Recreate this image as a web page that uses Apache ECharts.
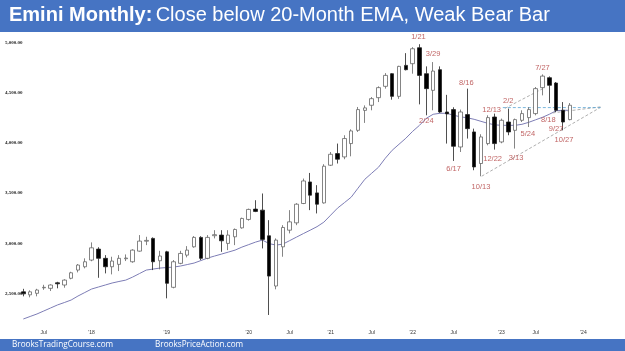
<!DOCTYPE html>
<html><head><meta charset="utf-8">
<script src="https://cdn.jsdelivr.net/npm/echarts@6/dist/echarts.min.js"></script>
<style>html,body{margin:0;padding:0;background:#fff}#c{width:625px;height:351px}</style>
</head><body><div id="c"></div>
<script>
// ---- data ----
var months = [];
(function(){var y=2017,m=3;for(var i=0;i<85;i++){months.push(y+'-'+(m<10?'0':'')+m);m++;if(m>12){m=1;y++;}}})();
// OHLC (Mar 2017 .. Nov 2023)
var opens  = [2515,2485,2500,2555,2550,2605,2583,2650,2732,2765,2832,2941,2849,2765,2789,2845,2815,2921,3020,3048,2825,2914,2560,2799,2881,2964,3058,2849,3075,3081,2998,3064,3153,3237,3340,3330,3074,2573,2964,3130,3203,3396,3611,3502,3402,3778,3894,3861,3994,4126,4325,4376,4452,4565,4691,4465,4774,4791,4950,4691,4525,4731,4309,4333,3960,4283,4110,3795,3994,4259,4010,4209,4126,4226,4253,4293,4552,4651,4598,4326,4233];
var highs  = [2545,2530,2545,2585,2590,2615,2640,2715,2792,2849,3008,2960,2881,2865,2881,2888,2940,3081,3064,3058,2924,2924,2832,2924,2971,3071,3070,3081,3130,3130,3130,3147,3255,3345,3429,3496,3230,3048,3180,3330,3400,3645,3701,3579,3788,3910,3994,4077,4136,4359,4375,4458,4565,4697,4697,4770,4896,4956,4985,4764,4807,4764,4480,4356,4333,4542,4143,4087,4276,4293,4243,4343,4243,4326,4356,4558,4684,4664,4608,4408,4398];
var lows   = [2470,2460,2470,2535,2523,2550,2556,2640,2709,2749,2820,2655,2699,2689,2722,2822,2805,2915,2981,2732,2739,2450,2550,2790,2859,2955,2832,2840,3048,2914,2931,2981,3145,3225,3310,2948,2284,2540,2865,3098,3180,3390,3330,3297,3395,3770,3795,3838,3867,4110,4200,4326,4408,4542,4432,4440,4724,4691,4385,4276,4326,4300,3994,3821,3910,4044,3728,3668,3977,3934,3997,4077,3944,4209,4159,4276,4475,4398,4309,4126,4226];
var closes = [2495,2515,2533,2560,2583,2595,2632,2705,2782,2815,2954,2849,2765,2822,2849,2852,2931,3021,3028,2815,2872,2600,2815,2898,2931,3058,2849,3058,3085,3024,3081,3137,3247,3337,3317,3038,2672,3031,3157,3213,3389,3621,3479,3389,3768,3887,3838,4044,4120,4333,4350,4442,4552,4674,4465,4764,4731,4940,4674,4542,4717,4309,4290,3967,4309,4143,3761,4060,4253,3994,4226,4110,4233,4293,4333,4542,4667,4575,4326,4209,4376];
// 20-month EMA as drawn on the picture
var ema = [2244,2269,2294,2324,2354,2384,2408,2433,2473,2508,2543,2563,2583,2603,2618,2632,2662,2697,2732,2742,2752,2757,2762,2772,2787,2802,2827,2852,2872,2891,2911,2931,2961,2986,3011,3031,2996,2981,2991,3026,3061,3096,3130,3165,3210,3280,3350,3404,3459,3549,3638,3698,3758,3848,3927,3987,4047,4116,4176,4246,4286,4296,4296,4276,4261,4251,4236,4216,4196,4181,4176,4176,4176,4186,4206,4231,4256,4286,4321,4326,4326];
var yTicks = [2500,3000,3500,4000,4500,5000];
var xTickIdx  = [3,10,21,33,39,45,51,57,63,70,75,82];
var xTickText = ['Jul',"'18","'19","'20",'Jul',"'21",'Jul',"'22",'Jul',"'23",'Jul',"'24"];
// annotations: text, candle index, anchored at high (H) or low (L)
var notes = [['1/21',58,'H'],['3/29',60,'H'],['2/24',59,'L'],['8/16',65,'H'],['6/17',63,'L'],['10/13',67,'L'],['12/13',69,'H'],['12/22',69,'L'],['2/2',71,'H'],['3/13',72,'L'],['5/24',74,'L'],['7/27',76,'H'],['8/18',77,'L'],['9/27',78,'L'],['10/27',79,'L']];
// dashed lines [idx1, price1, idx2, price2]
var grayLines = [[67.1,3668,84.5,4355],[70.5,4345,76,4540],[77.5,4300,84.5,4360]];
var blueLines = [[70.2,4353,84.5,4353]];

// ---- build ----
var noteOffset = {'1/21':[-1,-7],'3/29':[0,-8],'2/24':[0,6],'8/16':[-1,-6],'6/17':[0,8],'10/13':[0,11],'12/13':[-3,-4],'12/22':[-2,9],'2/2':[0,-8],'3/13':[1,9],'5/24':[-1,7],'7/27':[0,-6],'8/18':[-1,17],'9/27':[0,17],'10/27':[1,10]};
var candles = opens.map(function(o,i){return [o,closes[i],lows[i],highs[i]];});
var noteData = notes.map(function(n){
  var p = n[2]==='H'?highs[n[1]]:lows[n[1]];
  var off = noteOffset[n[0]];
  return {value:[n[1],p],label:{show:true,formatter:n[0],offset:off,position:'inside'}};
});
function lineSeries(arr,color){
  return arr.map(function(l){return {type:'line',data:[[l[0],l[1]],[l[2],l[3]]],xAxisIndex:1,yAxisIndex:0,symbol:'none',silent:true,
    lineStyle:{color:color,width:0.8,type:[3,2]},z:3};});
}
var chart = echarts.init(document.getElementById('c'),null,{renderer:'canvas'});
var gl=19.9, gr=24.5, gt=32.7, gb=27.6;
var opt = {
  animation:false,
  grid:{left:gl,right:gr,top:gt,bottom:gb},
  xAxis:[{type:'category',data:months,boundaryGap:true,
    axisLine:{show:false},axisTick:{show:false},splitLine:{show:false},
    axisLabel:{interval:function(i){return xTickIdx.indexOf(i)>=0;},
      formatter:function(v,i){var k=xTickIdx.indexOf(i);return k>=0?xTickText[k]:'';},
      fontSize:5,color:'#333',margin:7,fontFamily:'Liberation Sans'}},
   {type:'value',min:-0.5,max:84.5,show:false}],
  yAxis:{type:'value',min:2200,max:5100,interval:100,
    axisLine:{show:false},axisTick:{show:false},splitLine:{show:false},
    axisLabel:{formatter:function(v){return yTicks.indexOf(v)>=0?echarts.format.addCommas(v)+'.00':'';},
      fontSize:5,fontWeight:'bold',color:'#222',align:'left',margin:15,fontFamily:'Liberation Serif',showMinLabel:true,showMaxLabel:true}},
  series:[
    {type:'line',data:ema,symbol:'none',lineStyle:{color:'#7d7db5',width:1},z:2,silent:true},
    {type:'candlestick',data:candles,barWidth:4,z:4,
      itemStyle:{color:'#ffffff',color0:'#000000',borderColor:'#666666',borderColor0:'#222222',borderWidth:0.8}},
    {type:'scatter',data:noteData,symbolSize:0,xAxisIndex:0,z:6,
      label:{color:'#b03c3c',fontSize:7.5,fontFamily:'Liberation Sans'}}
  ].concat(lineSeries(grayLines,'#9a9a9a')).concat(lineSeries(blueLines,'#5aa6d6')),
  graphic:[
    {type:'rect',shape:{x:0,y:0,width:625,height:32},style:{fill:'#4674c3'},z:10},
    {type:'text',left:9,top:5,z:11,style:{text:'{b|Emini Monthly:} {n|Close below 20-Month EMA, Weak Bear Bar}',
      rich:{b:{fontSize:20,fontWeight:'bold',fill:'#fff',fontFamily:'Liberation Sans'},n:{fontSize:20,fill:'#fff',fontFamily:'Liberation Sans'}}}},
    {type:'rect',shape:{x:0,y:339,width:625,height:12},style:{fill:'#4674c3'},z:10},
    {type:'text',left:12,top:340.5,z:11,style:{text:'BrooksTradingCourse.com',fontSize:8.2,fill:'#fff',fontFamily:'Open Sans'}},
    {type:'text',left:155,top:340.5,z:11,style:{text:'BrooksPriceAction.com',fontSize:8.2,fill:'#fff',fontFamily:'Open Sans'}}
  ]
};
chart.setOption(opt);
</script></body></html>
